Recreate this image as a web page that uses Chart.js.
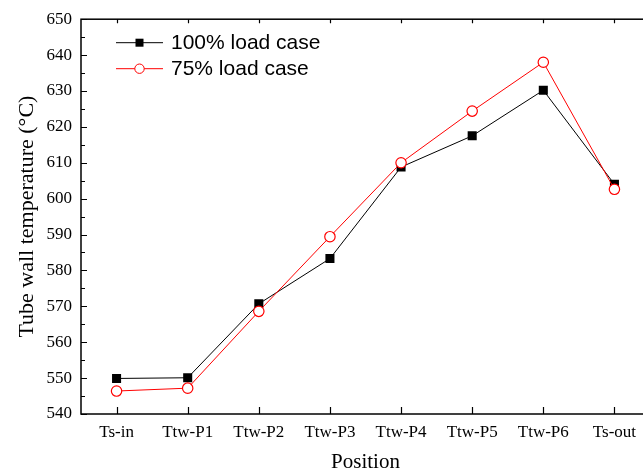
<!DOCTYPE html>
<html>
<head>
<meta charset="utf-8">
<script src="https://cdn.jsdelivr.net/npm/chart.js@4/dist/chart.umd.min.js"></script>
<style>
  html, body { margin: 0; padding: 0; background: #fff; overflow: hidden; }
  canvas { display: block; }
</style>
</head>
<body>
<canvas id="chart" width="660" height="475"></canvas>
<script>
const positions = ['Ts-in', 'Ttw-P1', 'Ttw-P2', 'Ttw-P3', 'Ttw-P4', 'Ttw-P5', 'Ttw-P6', 'Ts-out'];
const load100 = [549.9, 550.1, 570.7, 583.3, 608.8, 617.5, 630.2, 604.0];
const load75 = [546.4, 547.2, 568.6, 589.4, 610.0, 624.4, 638.0, 602.6];
const yMin = 540;
const yMax = 650;
const yStep = 10;

const serif = '"Liberation Serif", "Times New Roman", serif';
const sans = '"Liberation Sans", Arial, sans-serif';

// frame, inward ticks and the Origin-style legend
const framePlugin = {
  id: 'frame',
  afterDatasetsDraw(chart) {
    const {ctx, chartArea: a, scales: {x, y}} = chart;
    ctx.save();
    ctx.strokeStyle = '#000';
    ctx.lineWidth = 1.5;
    ctx.strokeRect(a.left, a.top, a.right - a.left, a.bottom - a.top);

    ctx.lineWidth = 1.2;
    ctx.beginPath();
    for (let v = yMin; v <= yMax; v += yStep / 2) {
      const py = Math.round(y.getPixelForValue(v)) + 0.5;
      const len = (v - yMin) % yStep === 0 ? 6 : 4;
      ctx.moveTo(a.left, py); ctx.lineTo(a.left + len, py);
      ctx.moveTo(a.right, py); ctx.lineTo(a.right - len, py);
    }
    positions.forEach((p, i) => {
      const px = Math.round(x.getPixelForValue(i)) + 0.5;
      ctx.moveTo(px, a.bottom); ctx.lineTo(px, a.bottom - 7);
      ctx.moveTo(px, a.top); ctx.lineTo(px, a.top + 4);
    });
    ctx.stroke();

    // legend
    ctx.font = '21px ' + sans;
    ctx.textBaseline = 'middle';
    chart.data.datasets.forEach((ds, i) => {
      const ly = a.top + 23.5 + i * 26;
      const lx = a.left + 35;
      ctx.strokeStyle = ds.borderColor;
      ctx.lineWidth = 1;
      ctx.beginPath();
      ctx.moveTo(lx, ly); ctx.lineTo(lx + 47, ly);
      ctx.stroke();
      ctx.fillStyle = ds.pointBackgroundColor;
      ctx.strokeStyle = ds.pointBorderColor;
      if (ds.pointStyle === 'rect') {
        ctx.fillRect(lx + 19.5, ly - 4, 8, 8);
      } else {
        ctx.beginPath();
        ctx.arc(lx + 23.5, ly, 4.7, 0, Math.PI * 2);
        ctx.fill(); ctx.stroke();
      }
      ctx.fillStyle = '#000';
      ctx.fillText(ds.label, lx + 55, ly + 1);
    });
    ctx.restore();
  }
};

new Chart(document.getElementById('chart'), {
  type: 'line',
  data: {
    labels: positions,
    datasets: [
      {
        label: '100% load case',
        data: load100,
        borderColor: '#000',
        borderWidth: 1,
        pointStyle: 'rect',
        pointRadius: 6.4,
        pointBackgroundColor: '#000',
        pointBorderColor: '#000',
        pointBorderWidth: 0,
        order: 1
      },
      {
        label: '75% load case',
        data: load75,
        borderColor: '#ff0000',
        borderWidth: 1,
        pointStyle: 'circle',
        pointRadius: 5.2,
        pointBackgroundColor: '#fff',
        pointBorderColor: '#ff0000',
        pointBorderWidth: 1.2,
        order: 0
      }
    ]
  },
  options: {
    responsive: false,
    animation: false,
    layout: {padding: {top: 16, right: 10, left: 0, bottom: 0}},
    plugins: {legend: {display: false}, tooltip: {enabled: false}},
    scales: {
      x: {
        type: 'category',
        offset: true,
        grid: {display: false, drawTicks: false},
        border: {display: false},
        ticks: {color: '#000', padding: 8, maxRotation: 0, font: {family: serif, size: 17}},
        title: {display: true, text: 'Position', color: '#000', padding: {top: 0, bottom: 0}, font: {family: serif, size: 21}},
        afterFit(scale) { scale.height = 61; }
      },
      y: {
        min: yMin,
        max: yMax,
        grid: {display: false, drawTicks: false},
        border: {display: false},
        ticks: {stepSize: yStep, color: '#000', padding: 9, font: {family: serif, size: 17}},
        title: {display: true, text: 'Tube wall temperature (°C)', color: '#000', padding: {top: 14, bottom: 0}, font: {family: serif, size: 22}},
        afterFit(scale) { scale.width = 81; }
      }
    }
  },
  plugins: [framePlugin]
});
</script>
</body>
</html>
